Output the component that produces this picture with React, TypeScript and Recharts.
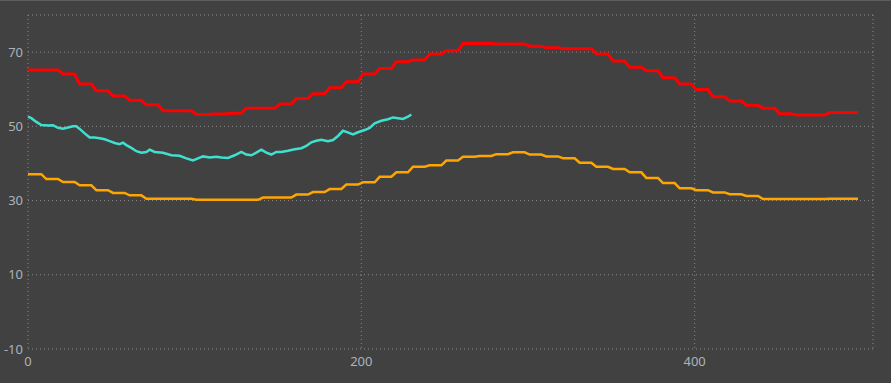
import { LineChart, Line, XAxis, YAxis, CartesianGrid } from "recharts";

// step levels, one per 10-unit block (block k spans roughly x = 10k+1 .. 10k+8)
const redLevels = [
  65.2, 65.2, 64.1, 61.4, 59.6, 58.2, 57.0, 55.8, 54.2, 54.2,
  53.2, 53.3, 53.5, 54.9, 54.9, 56.0, 57.5, 58.8, 60.4, 62.0,
  64.1, 65.6, 67.4, 67.9, 69.5, 70.4, 72.3, 72.3, 72.2, 72.2,
  71.6, 71.2, 70.9, 70.9, 69.5, 67.6, 65.9, 65.0, 63.1, 61.4,
  59.9, 58.0, 56.8, 55.7, 54.9, 53.4, 53.05, 53.05, 53.7, 53.7,
];

const orangeLevels = [
  37.1, 35.8, 35.0, 34.1, 32.8, 32.05, 31.4, 30.5, 30.5, 30.5,
  30.2, 30.2, 30.2, 30.2, 30.8, 30.8, 31.6, 32.3, 33.1, 34.3,
  34.9, 36.4, 37.6, 39.1, 39.5, 40.8, 41.8, 42.0, 42.5, 43.0,
  42.4, 41.9, 41.4, 40.2, 39.1, 38.5, 37.6, 36.1, 34.7, 33.3,
  32.8, 32.2, 31.7, 31.25, 30.4, 30.4, 30.4, 30.4, 30.5, 30.5,
];

const cyanX = [
  0, 2, 5, 8, 12, 15, 18, 21, 24, 27, 29, 31, 34, 37, 40, 43, 46, 49, 52, 55,
  57, 59, 62, 65, 68, 71, 73, 76, 81, 86, 91, 95, 99, 102, 105, 109, 113, 116,
  120, 124, 128, 131, 134, 137, 140, 143, 146, 149, 152, 156, 160, 164, 167,
  170, 173, 176, 180, 183, 186, 189, 191, 195, 198, 202, 205, 208, 212, 216,
  219, 222, 225, 228, 230,
];
const cyanY = [
  52.6, 52.2, 51.2, 50.35, 50.2, 50.3, 49.6, 49.35, 49.7, 50.0, 50.0, 49.3,
  48.1, 47.0, 47.0, 46.8, 46.5, 46.0, 45.5, 45.2, 45.6, 44.95, 44.2, 43.3,
  42.9, 43.1, 43.7, 43.1, 42.9, 42.2, 42.05, 41.35, 40.8, 41.35, 41.9, 41.6,
  41.8, 41.6, 41.5, 42.2, 43.1, 42.4, 42.2, 42.9, 43.7, 42.9, 42.4, 43.1,
  43.1, 43.4, 43.8, 44.1, 44.7, 45.7, 46.1, 46.4, 46.0, 46.3, 47.4, 48.8,
  48.5, 47.8, 48.4, 49.0, 49.6, 50.8, 51.5, 51.9, 52.4, 52.2, 52.0, 52.6,
  53.2,
];

const xTicks = [0, 200, 400];
const yTicks = [-10, 10, 30, 50, 70];

const stepData = redLevels.flatMap((r, k) => [
  { x: k === 0 ? 0 : 10 * k + 1, red: r, orange: orangeLevels[k] },
  { x: 10 * k + 8, red: r, orange: orangeLevels[k] },
]);

const cyanData = cyanX.map((x, i) => ({ x, cyan: cyanY[i] }));

const tickStyle = { fontSize: 13, fill: "#aab3bd", fontFamily: "Noto Sans, sans-serif" };

export default function App() {
  return (
    <div
      style={{
        position: "absolute",
        left: 0,
        top: 0,
        width: 891,
        height: 383,
        background: "#414141",
        boxShadow: "inset 0 1px 0 #5e5e5e",
      }}
    >
      <LineChart
        width={891}
        height={383}
        data={stepData}
        margin={{ top: 15, right: 18, bottom: 0, left: 0 }}
      >
        <CartesianGrid stroke="#8a8a8a" strokeDasharray="1 3" />
        <XAxis
          type="number"
          dataKey="x"
          domain={[0, 507]}
          ticks={xTicks}
          tick={tickStyle}
          axisLine={false}
          tickLine={false}
          height={34}
        />
        <YAxis
          type="number"
          domain={[-10, 80]}
          ticks={yTicks}
          tick={tickStyle}
          axisLine={false}
          tickLine={false}
          tickSize={3}
          width={28}
        />
        <Line
          dataKey="red"
          stroke="#ff0000"
          strokeWidth={3}
          dot={false}
          type="linear"
          isAnimationActive={false}
        />
        <Line
          dataKey="orange"
          stroke="#ffa500"
          strokeWidth={2.5}
          dot={false}
          type="linear"
          isAnimationActive={false}
        />
        <Line
          data={cyanData}
          dataKey="cyan"
          stroke="#40e0d0"
          strokeWidth={2.5}
          dot={false}
          type="linear"
          isAnimationActive={false}
        />
      </LineChart>
    </div>
  );
}
